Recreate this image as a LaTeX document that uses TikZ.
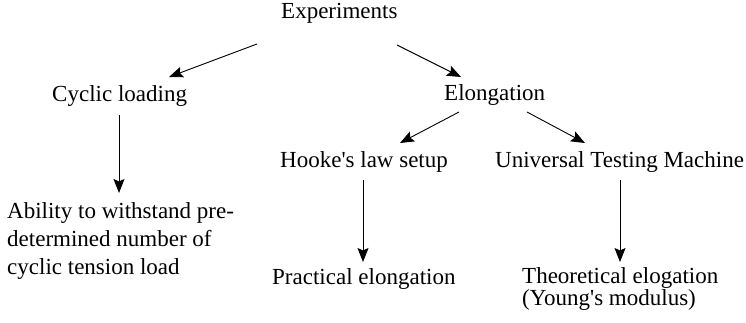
\documentclass[tikz,border=0pt]{standalone}
\usepackage{fontspec}
\setmainfont{Liberation Serif}
\usetikzlibrary{positioning,calc,arrows.meta}

\begin{document}
\begin{tikzpicture}[x=1bp,y=1bp,
		every node/.style={inner sep=0pt,anchor=base west,align=left,
			font=\fontsize{23bp}{28bp}\selectfont}]
		\useasboundingbox (0,0) rectangle (746,322);
		\node (exp) at (281,304) {Experiments};
		\node (cyc) at (52,221) {Cyclic loading};
		\node (elo) at (444,222) {Elongation};
		\node (hoo) at (280,155) {Hooke\textquotesingle s law setup};
		\node (utm) at (495,155) {Universal Testing Machine};
		\node (abl) at (7,48) {Ability to withstand pre-\\determined number of\\cyclic tension load};
		\node (pra) at (272,38) {Practical elongation};
		\node[font=\fontsize{23bp}{22bp}\selectfont] (the) at (522,17) {Theoretical elogation\\(Young\textquotesingle s modulus)};
		\path[->, line width=0.9bp, >={Stealth[length=14bp,width=11bp,inset=2.5bp]}]
		($(exp.base west)+(-24,-26)$) edge ($(cyc.base west)+(117,24)$)
		($(exp.base west)+(116,-27)$) edge ($(elo.base west)+(17,23)$)
		($(cyc.base west)+(67,-14)$) edge ($(abl.base west)+(112,81)$)
		($(elo.base west)+(15,-12)$) edge ($(hoo.base west)+(120,24)$)
		($(elo.base west)+(83,-12)$) edge ($(utm.base west)+(90,24)$)
		($(hoo.base west)+(83,-13)$) edge ($(pra.base west)+(91,22)$)
		($(utm.base west)+(125,-13)$) edge ($(the.base west)+(98,43)$)
		;
	\end{tikzpicture}
\end{document}
